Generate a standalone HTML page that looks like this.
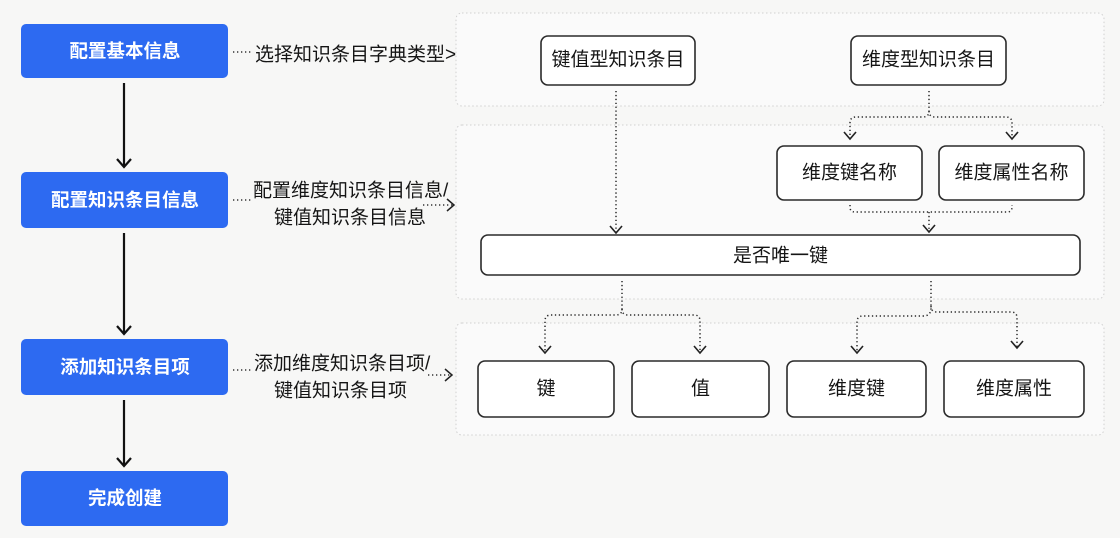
<!DOCTYPE html>
<html><head><meta charset="utf-8">
<style>
html,body{margin:0;padding:0;background:#f7f7f6;}
svg{display:block;}
text{font-family:"Liberation Sans","Noto Sans CJK SC",sans-serif;}
</style></head>
<body>
<svg width="1120" height="538" viewBox="0 0 1120 538" xmlns="http://www.w3.org/2000/svg">
<rect x="0" y="0" width="1120" height="538" fill="#f7f7f6"/>
<!-- containers -->
<g fill="#fafafa" stroke="#d0d0d0" stroke-width="1" stroke-dasharray="1.5 2.5">
<rect x="456" y="13" width="648" height="93" rx="6"/>
<rect x="456" y="125" width="648" height="174" rx="6"/>
<rect x="456" y="323" width="648" height="112" rx="6"/>
</g>
<!-- blue boxes -->
<g fill="#2d6af1">
<rect x="21" y="24" width="207" height="54" rx="5"/>
<rect x="21" y="172" width="207" height="56" rx="5"/>
<rect x="21" y="339" width="207" height="56" rx="5"/>
<rect x="21" y="471" width="207" height="55" rx="5"/>
</g>
<g fill="#ffffff" font-size="18.5" font-weight="bold" text-anchor="middle" dominant-baseline="central">
<text x="125" y="51">配置基本信息</text>
<text x="125" y="200">配置知识条目信息</text>
<text x="125" y="367">添加知识条目项</text>
<text x="125" y="498">完成创建</text>
</g>
<!-- solid arrows -->
<g stroke="#111" stroke-width="2.2" fill="none">
<path d="M124,83 V167"/><path d="M117,159 L124,167 L131,159"/>
<path d="M124,233 V334"/><path d="M117,326 L124,334 L131,326"/>
<path d="M124,400 V466"/><path d="M117,458 L124,466 L131,458"/>
</g>
<!-- left labels -->
<g fill="#151515" font-size="19" dominant-baseline="central">
<text x="255" y="55">选择知识条目字典类型&gt;</text>
<text x="253" y="191">配置维度知识条目信息/</text>
<text x="274" y="218">键值知识条目信息</text>
<text x="254" y="364">添加维度知识条目项/</text>
<text x="274" y="391">键值知识条目项</text>
</g>
<g stroke="#333" stroke-width="1.4" fill="none" stroke-dasharray="1.3 2.7">
<path d="M233,52 H252"/>
<path d="M233,200 H251"/>
<path d="M423,205 H453"/>
<path d="M233,370 H253"/>
<path d="M428,375 H451"/>
</g>
<g stroke="#222" stroke-width="1.5" fill="none">
<path d="M447,199 L454,205 L447,211"/>
<path d="M445,369 L452,375 L445,381"/>
</g>
<!-- nodes -->
<g fill="#ffffff" stroke="#2a2a2a" stroke-width="1.6">
<rect x="541" y="36" width="154" height="49" rx="7"/>
<rect x="851" y="36" width="155" height="49" rx="7"/>
<rect x="777" y="146" width="145" height="54" rx="7"/>
<rect x="939" y="146" width="145" height="54" rx="7"/>
<rect x="481" y="235" width="599" height="40" rx="7"/>
<rect x="478" y="361" width="136" height="56" rx="7"/>
<rect x="632" y="361" width="137" height="56" rx="7"/>
<rect x="787" y="361" width="139" height="56" rx="7"/>
<rect x="944" y="361" width="140" height="56" rx="7"/>
</g>
<g fill="#151515" font-size="19" text-anchor="middle" dominant-baseline="central">
<text x="618" y="60">键值型知识条目</text>
<text x="928.5" y="60">维度型知识条目</text>
<text x="849.5" y="173">维度键名称</text>
<text x="1011.5" y="173">维度属性名称</text>
<text x="780.5" y="256">是否唯一键</text>
<text x="546" y="389">键</text>
<text x="700.5" y="389">值</text>
<text x="856.5" y="389">维度键</text>
<text x="1014" y="389">维度属性</text>
</g>
<!-- dotted connectors -->
<g stroke="#2a2a2a" stroke-width="1.5" fill="none" stroke-dasharray="1.3 2.6">
<path d="M616,91 V232"/>
<path d="M929,91 V111 Q929,117 923,117 H856 Q850,117 850,123 V138"/>
<path d="M929,111 Q929,117 935,117 H1006 Q1012,117 1012,123 V138"/>
<path d="M850,205 V207 Q850,212 855,212 H1007 Q1012,212 1012,207 V205"/>
<path d="M929,212 V231"/>
<path d="M622,281 V309 Q622,315 616,315 H551 Q545,315 545,321 V352"/>
<path d="M622,309 Q622,315 628,315 H694 Q700,315 700,321 V352"/>
<path d="M931,281 V308 Q931,316 923,316 H863 Q857,316 857,322 V352"/>
<path d="M931,306 Q931,312 937,312 H1011 Q1017,312 1017,318 V347"/>
</g>
<g stroke="#222" stroke-width="1.6" fill="none">
<path d="M610,226 L616,233 L622,226"/>
<path d="M844,132 L850,139 L856,132"/>
<path d="M1006,132 L1012,139 L1018,132"/>
<path d="M923,225 L929,232 L935,225"/>
<path d="M539,346 L545,353 L551,346"/>
<path d="M694,346 L700,353 L706,346"/>
<path d="M851,346 L857,353 L863,346"/>
<path d="M1011,341 L1017,348 L1023,341"/>
</g>
</svg>
</body></html>
